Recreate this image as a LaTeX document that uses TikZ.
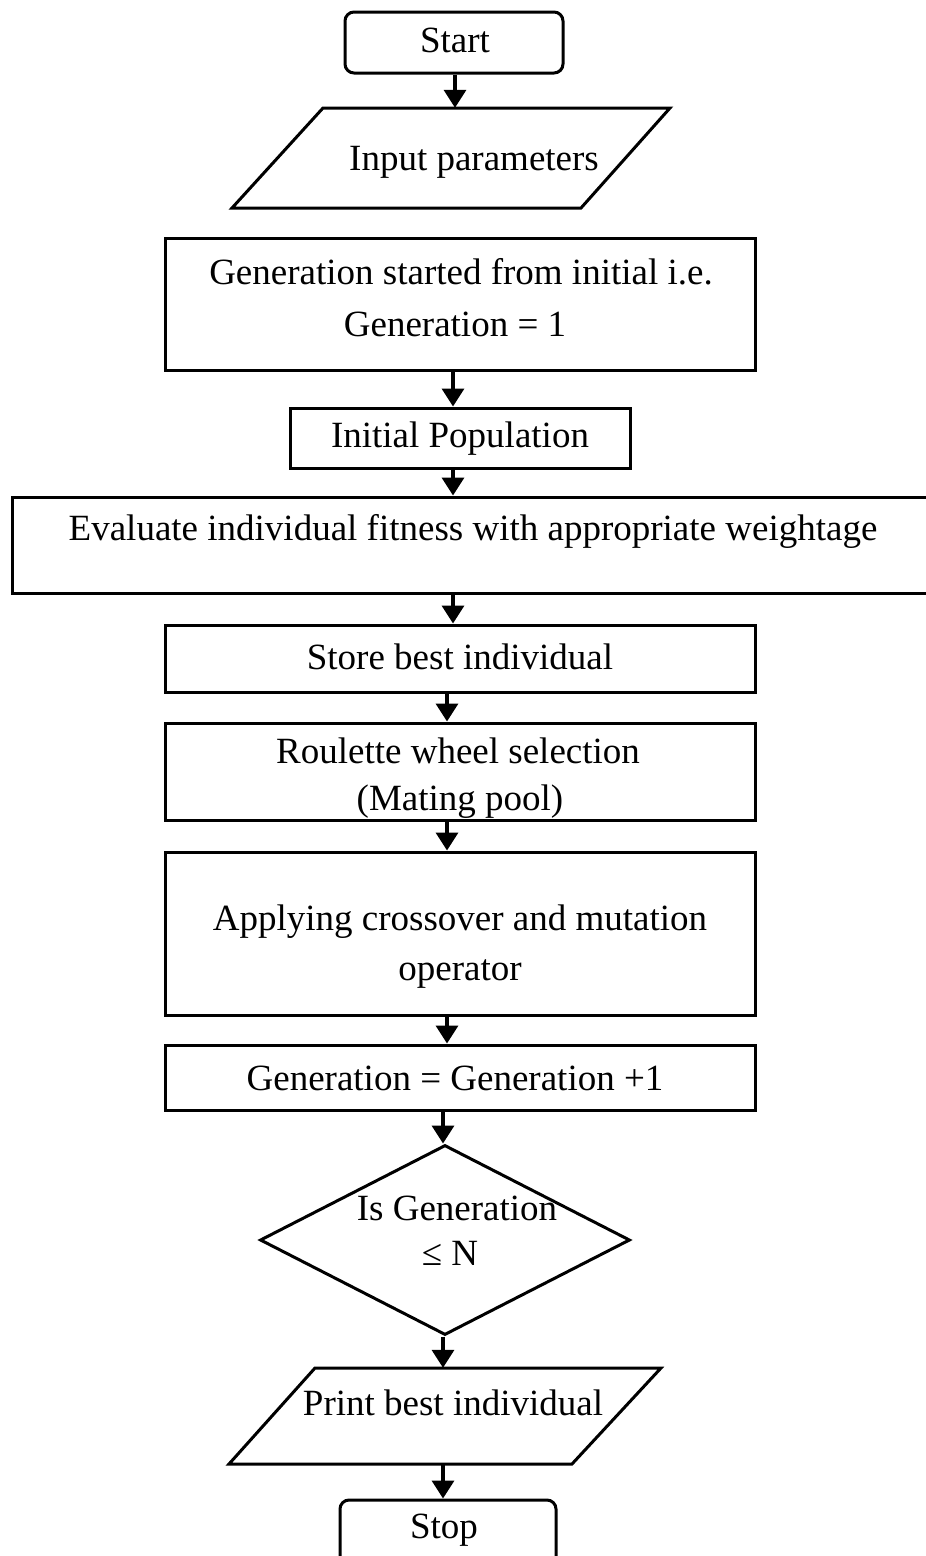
\documentclass[tikz,border=0pt]{standalone}
\usepackage{fontspec}
\setmainfont{Liberation Serif}
\usetikzlibrary{arrows.meta,shapes.geometric}
\begin{document}
\begin{tikzpicture}[x=1pt,y=-1pt,
  box/.style={draw,line width=3pt,inner sep=0pt},
  ghost/.style={inner sep=0pt},
  shapeline/.style={line width=3pt,line join=miter},
  arr/.style={line width=3.5pt,-{Triangle[width=22pt,length=18pt]}},
  lbl/.style={font=\fontsize{37}{45}\selectfont,inner sep=0pt,anchor=base}]
\useasboundingbox (0,0) rectangle (926,1556);
\clip (0,0) rectangle (926,1556);
\fill[white] (0,0) rectangle (926,1556);

% shapes
\node[box,minimum width=218,minimum height=61,rounded corners=9pt] (start) at (454,42.5) {};
\node[ghost,minimum width=348,minimum height=100] (input) at (451,158) {};
\draw[shapeline] (323,108) -- (670,108) -- (581,208) -- (232,208) -- cycle;
\node[box,minimum width=590,minimum height=132] (gen) at (460,304) {};
\node[box,minimum width=340,minimum height=60] (init) at (460,438) {};
\node[box,minimum width=928,minimum height=96] (eval) at (476,545) {};
\node[box,minimum width=590,minimum height=67] (store) at (460,658.5) {};
\node[box,minimum width=590,minimum height=97] (roul) at (460,771.5) {};
\node[box,minimum width=590,minimum height=163] (apply) at (460,933.5) {};
\node[box,minimum width=590,minimum height=65] (inc) at (460,1077.5) {};
\node[box,diamond,minimum width=370,minimum height=190] (dec) at (445,1240) {};
\node[ghost,minimum width=345,minimum height=96] (print) at (444,1416) {};
\draw[shapeline] (315,1368) -- (661,1368) -- (572,1464) -- (229,1464) -- cycle;
\node[box,minimum width=216,minimum height=80,rounded corners=9pt] (stop) at (448,1540) {};

% texts
\node[lbl] (tstart) at (455,52) {Start};
\node[lbl] (tinput) at (474,170) {Input parameters};
\node[lbl] (tgen1) at (461,284) {Generation started from initial i.e.};
\node[lbl] (tgen2) at (455,336) {Generation = 1};
\node[lbl] (tinit) at (460,447) {Initial Population};
\node[lbl] (teval) at (473,540) {Evaluate individual fitness with appropriate\ weightage};
\node[lbl] (tstore) at (460,669) {Store best individual};
\node[lbl] (troul1) at (458,763) {Roulette wheel selection};
\node[lbl] (troul2) at (460,810) {(Mating pool)};
\node[lbl] (tapp1) at (460,930) {Applying crossover and mutation};
\node[lbl] (tapp2) at (460,980) {operator};
\node[lbl] (tinc) at (455,1090) {Generation = Generation +1};
\node[lbl] (tdec1) at (457,1220) {Is Generation};
\node[lbl] (tdec2) at (450,1265) {≤ N};
\node[lbl] (tprint) at (453,1415) {Print best individual};
\node[lbl] (tstop) at (444,1538) {Stop};

% connectors
\draw[arr] ([xshift=1pt]start.south) -- ([xshift=1pt]start.south |- input.north);
\draw[arr] ([xshift=-7pt]gen.south) -- ([xshift=-7pt]gen.south |- init.north);
\draw[arr] ([xshift=-7pt]init.south) -- ([xshift=-7pt]init.south |- eval.north);
\draw[arr] ([xshift=-23pt]eval.south) -- ([xshift=-23pt]eval.south |- store.north);
\draw[arr] ([xshift=-13pt]store.south) -- ([xshift=-13pt]store.south |- roul.north);
\draw[arr] ([xshift=-13pt]roul.south) -- ([xshift=-13pt]roul.south |- apply.north);
\draw[arr] ([xshift=-13pt]apply.south) -- ([xshift=-13pt]apply.south |- inc.north);
\draw[arr] ([xshift=-17pt]inc.south) -- ([xshift=-17pt]inc.south |- dec.north);
\draw[arr] ([xshift=-2pt]dec.south) -- ([xshift=-2pt]dec.south |- print.north);
\draw[arr] ([xshift=-1pt]print.south) -- ([xshift=-1pt]print.south |- stop.north);
\end{tikzpicture}
\end{document}
